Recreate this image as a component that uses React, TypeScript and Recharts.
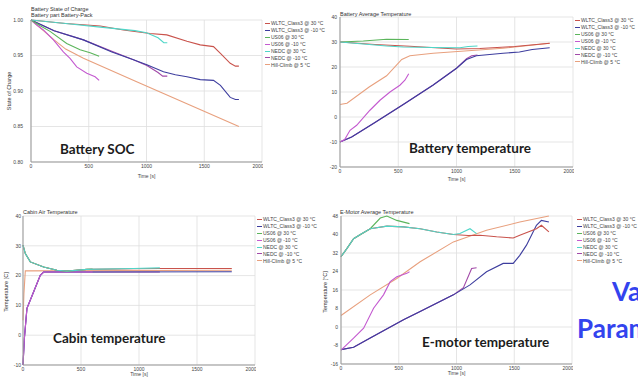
import { LineChart, Line, XAxis, YAxis, CartesianGrid, Label } from "recharts";

type Pt = [number, number];

const seriesNames = [
  "WLTC_Class3 @ 30 °C",
  "WLTC_Class3 @ -10 °C",
  "US06 @ 30 °C",
  "US06 @ -10 °C",
  "NEDC @ 30 °C",
  "NEDC @ -10 °C",
  "Hill-Climb @ 5 °C",
];
const seriesColors = ["#c9534c", "#3d3d9e", "#5bb55b", "#c45ad0", "#4fd6c8", "#a24aa8", "#e8a07e"];
const drawOrder = [6, 5, 1, 3, 2, 0, 4];
const timeTicks = [0, 500, 1000, 1500, 2000];

// battery state of charge
const socWltcHot: Pt[] = [[0, 1], [300, 0.995], [600, 0.9916], [800, 0.986], [1030, 0.981], [1176, 0.979], [1350, 0.97], [1465, 0.965], [1580, 0.9625], [1640, 0.953], [1725, 0.939], [1770, 0.935], [1800, 0.935]];
const socWltcCold: Pt[] = [[0, 1], [200, 0.985], [454, 0.972], [700, 0.955], [887, 0.944], [1003, 0.937], [1147, 0.927], [1250, 0.923], [1350, 0.92], [1465, 0.916], [1580, 0.915], [1640, 0.908], [1725, 0.891], [1770, 0.888], [1800, 0.888]];
const socUs06Hot: Pt[] = [[0, 1], [80, 0.992], [165, 0.984], [309, 0.967], [425, 0.958], [512, 0.954], [590, 0.949]];
const socUs06Cold: Pt[] = [[0, 1], [50, 0.993], [107, 0.986], [194, 0.972], [280, 0.955], [338, 0.946], [396, 0.934], [483, 0.925], [555, 0.92], [590, 0.915]];
const socNedcHot: Pt[] = [[0, 1], [300, 0.995], [600, 0.99], [900, 0.985], [1000, 0.982], [1100, 0.975], [1150, 0.968], [1180, 0.968]];
const socNedcCold: Pt[] = [[0, 1], [200, 0.985], [454, 0.972], [700, 0.956], [887, 0.944], [1003, 0.936], [1100, 0.926], [1140, 0.921], [1180, 0.921]];
const socHill: Pt[] = [[0, 1], [100, 0.986], [200, 0.972], [300, 0.959], [454, 0.946], [900, 0.914], [1350, 0.882], [1800, 0.85]];
const socTicks = [0.8, 0.85, 0.9, 0.95, 1];

// battery average temperature
const btWltcHot: Pt[] = [[0, 30], [300, 29], [600, 28.3], [1000, 27.2], [1200, 27.4], [1500, 28.2], [1800, 29.5]];
const btWltcCold: Pt[] = [[0, -10], [100, -8], [300, -2.2], [543, 5], [800, 12.8], [1000, 19.5], [1086, 23], [1170, 24.5], [1400, 25.5], [1540, 26], [1650, 27], [1800, 27.7]];
const btUs06Hot: Pt[] = [[0, 30], [200, 30.4], [400, 31.1], [590, 31]];
const btUs06Cold: Pt[] = [[0, -10], [40, -9], [86, -5.3], [143, -3.3], [257, 2.7], [343, 6.7], [429, 10], [514, 12.7], [557, 14.7], [590, 17.3]];
const btNedcHot: Pt[] = [[0, 30], [200, 29.2], [400, 28.4], [543, 28], [800, 27.8], [1030, 27.7], [1100, 28.2], [1180, 28.4]];
const btNedcCold: Pt[] = [[0, -10], [100, -8], [300, -2.2], [543, 5], [800, 12.8], [1000, 19.5], [1086, 23.3], [1130, 24.5], [1180, 24.8]];
const btHill: Pt[] = [[0, 5], [60, 5.5], [250, 12], [400, 16.5], [530, 23], [600, 24.5], [800, 25.5], [1100, 26.5], [1400, 27.5], [1800, 29.5]];
const tempTicks = [-20, -10, 0, 10, 20, 30, 40];

// cabin air temperature
const caWltcHot: Pt[] = [[0, 30.2], [20, 27.4], [63, 24.6], [178, 22.9], [293, 21.8], [379, 21.5], [551, 22.1], [953, 22.3], [1180, 22.4], [1800, 22.4]];
const caWltcCold: Pt[] = [[0, -10], [12, -1], [34, 9], [92, 14.6], [149, 20.1], [178, 21.2], [600, 21.2], [1800, 21.3]];
const caUs06Hot: Pt[] = [[0, 30.2], [20, 27.4], [63, 24.6], [178, 22.9], [293, 21.8], [379, 21.5], [551, 22.1], [600, 22.2]];
const caUs06Cold: Pt[] = [[0, -10], [12, -1], [34, 9], [92, 14.6], [149, 20.1], [178, 21.2], [600, 21.2]];
const caNedcHot: Pt[] = [[0, 30.2], [20, 27.4], [63, 24.6], [178, 22.9], [293, 21.8], [379, 21.5], [551, 22.1], [953, 22.4], [1180, 22.6]];
const caNedcCold: Pt[] = [[0, -10], [12, -1], [34, 9], [92, 14.6], [149, 20.1], [178, 21.2], [1180, 21.2]];
const caHill: Pt[] = [[0, 5], [8, 14], [20, 21.6], [1800, 21.8]];
const cabinTicks = [-10, 0, 10, 20, 30, 40];

// e-motor average temperature
const emWltcHot: Pt[] = [[0, 30.4], [52, 34], [109, 38.2], [167, 40], [253, 42.5], [397, 43.6], [541, 43.3], [685, 42.5], [829, 41.1], [973, 40], [1100, 39.6], [1203, 39.7], [1347, 39], [1491, 38.5], [1548, 39.7], [1692, 42.5], [1735, 44], [1800, 41.1]];
const emWltcCold: Pt[] = [[0, -9.8], [109, -8.8], [253, -4.8], [541, 3.1], [685, 6.7], [973, 13.9], [1117, 18.2], [1260, 23.9], [1404, 27.5], [1491, 27.5], [1548, 31], [1606, 35.4], [1692, 44], [1735, 46.1], [1800, 45.4]];
const emUs06Hot: Pt[] = [[0, 30.4], [52, 34], [109, 38.2], [253, 42.5], [340, 47.1], [397, 48], [483, 46.1], [593, 44.7]];
const emUs06Cold: Pt[] = [[0, -10], [109, -4.8], [196, -0.5], [282, 8.1], [368, 13.9], [426, 19.6], [483, 21.7], [570, 23.2], [593, 23.9]];
const emNedcHot: Pt[] = [[0, 30.4], [52, 34], [109, 38.2], [167, 40], [253, 42.5], [397, 43.6], [541, 43.3], [685, 42.5], [829, 41.1], [973, 40], [1030, 40.4], [1117, 42.5], [1174, 40.4]];
const emNedcCold: Pt[] = [[0, -9.8], [109, -8.8], [253, -4.8], [541, 3.1], [685, 6.7], [973, 13.9], [1060, 17], [1131, 25.3], [1174, 25.6]];
const emHill: Pt[] = [[0, 5], [253, 13.9], [483, 21], [685, 28.2], [973, 36.8], [1260, 41.8], [1548, 45.4], [1800, 48]];
const motorTicks = [-16, -8, 0, 8, 16, 24, 32, 40, 48];

const rows = (pts: Pt[]) => pts.map(([t, v]) => ({ t, v }));
const tickFont = { fontSize: 5, fill: "#444", fontFamily: "Liberation Sans" };
const smallText = { position: "absolute" as const, fontSize: 5.5, color: "#333", fontFamily: "Liberation Sans", whiteSpace: "nowrap" as const, lineHeight: "7px" };

interface PanelProps {
  left: number;
  top: number;
  width: number;
  height: number;
  marginTop: number;
  yWidth: number;
  xHeight: number;
  yGap: number;
  series: Pt[][];
  yTicks: number[];
  fmt?: (v: number) => string;
}

function Panel({ left, top, width, height, marginTop, yWidth, xHeight, yGap, series, yTicks, fmt }: PanelProps) {
  return (
    <div style={{ position: "absolute", left, top }}>
      <LineChart width={width} height={height} margin={{ top: marginTop, right: 1, left: 0, bottom: 0 }}>
        <CartesianGrid stroke="#dedede" strokeWidth={0.8} />
        <XAxis
          type="number"
          dataKey="t"
          domain={[0, 2000]}
          ticks={timeTicks}
          height={xHeight}
          tick={tickFont}
          tickLine={false}
          tickSize={2}
          tickMargin={0}
          stroke="#999"
        >
          <Label value="Time [s]" position="insideBottom" offset={4} style={tickFont} />
        </XAxis>
        <YAxis
          type="number"
          domain={[yTicks[0], yTicks[yTicks.length - 1]]}
          ticks={yTicks}
          width={yWidth}
          tick={tickFont}
          tickLine={false}
          tickSize={yGap}
          tickMargin={0}
          tickFormatter={fmt}
          stroke="#999"
        />
        {drawOrder.map((i) =>
          series[i] ? (
            <Line
              key={i}
              data={rows(series[i])}
              dataKey="v"
              type="linear"
              stroke={seriesColors[i]}
              strokeWidth={1.1}
              dot={false}
              isAnimationActive={false}
            />
          ) : null
        )}
      </LineChart>
    </div>
  );
}

function SeriesLegend({ left, top }: { left: number; top: number }) {
  return (
    <div style={{ position: "absolute", left, top }}>
      {seriesNames.map((name, i) => (
        <div key={name} style={{ display: "flex", alignItems: "center", height: 6.9 }}>
          <div style={{ width: 5, height: 1, background: seriesColors[i], marginRight: 1 }} />
          <span style={{ fontSize: 5, color: "#444", fontFamily: "Liberation Sans", whiteSpace: "nowrap" }}>{name}</span>
        </div>
      ))}
    </div>
  );
}

const caption = { position: "absolute" as const, fontFamily: "Lato", fontWeight: 700, fontSize: 13.5, color: "#1c1c1c", whiteSpace: "nowrap" as const, lineHeight: "16px" };
const blue = { position: "absolute" as const, fontFamily: "Lato", fontWeight: 700, fontSize: 26, color: "#3343ee", whiteSpace: "nowrap" as const, lineHeight: "30px" };

export default function App() {
  return (
    <div style={{ position: "absolute", left: 0, top: 0, width: 638, height: 377, overflow: "hidden", background: "#fff" }}>
      <Panel left={0} top={0} width={263} height={182} marginTop={20} yWidth={31} xHeight={20} yGap={8}
        series={[socWltcHot, socWltcCold, socUs06Hot, socUs06Cold, socNedcHot, socNedcCold, socHill]}
        yTicks={socTicks} fmt={(v) => v.toFixed(2)} />
      <Panel left={320} top={0} width={254} height={185} marginTop={17} yWidth={20} xHeight={18} yGap={3}
        series={[btWltcHot, btWltcCold, btUs06Hot, btUs06Cold, btNedcHot, btNedcCold, btHill]}
        yTicks={tempTicks} />
      <Panel left={0} top={195} width={256} height={185} marginTop={21} yWidth={23} xHeight={15} yGap={2}
        series={[caWltcHot, caWltcCold, caUs06Hot, caUs06Cold, caNedcHot, caNedcCold, caHill]}
        yTicks={cabinTicks} />
      <Panel left={320} top={195} width={253} height={184} marginTop={21} yWidth={21} xHeight={15} yGap={3}
        series={[emWltcHot, emWltcCold, emUs06Hot, emUs06Cold, emNedcHot, emNedcCold, emHill]}
        yTicks={motorTicks} />

      <SeriesLegend left={265} top={20} />
      <SeriesLegend left={575} top={17} />
      <SeriesLegend left={257} top={216} />
      <SeriesLegend left={577} top={216} />

      <div style={{ ...smallText, left: 31, top: 6 }}>Battery State of Charge</div>
      <div style={{ ...smallText, left: 31, top: 12 }}>Battery part Battery-Pack</div>
      <div style={{ ...smallText, left: 340, top: 11 }}>Battery Average Temperature</div>
      <div style={{ ...smallText, left: 23, top: 209 }}>Cabin Air Temperature</div>
      <div style={{ ...smallText, left: 340, top: 209 }}>E-Motor Average Temperature</div>
      <div style={{ ...smallText, left: 9, top: 91, transform: "translate(-50%, -50%) rotate(-90deg)" }}>State of Charge</div>
      <div style={{ ...smallText, left: 6, top: 292, transform: "translate(-50%, -50%) rotate(-90deg)" }}>Temperature [C]</div>
      <div style={{ ...smallText, left: 325, top: 292, transform: "translate(-50%, -50%) rotate(-90deg)" }}>Temperature [°C]</div>

      <div style={{ ...caption, left: 60, top: 141 }}>Battery SOC</div>
      <div style={{ ...caption, left: 409, top: 140 }}>Battery temperature</div>
      <div style={{ ...caption, left: 53, top: 330 }}>Cabin temperature</div>
      <div style={{ ...caption, left: 422, top: 334 }}>E-motor temperature</div>

      <div style={{ ...blue, left: 612, top: 276 }}>Va</div>
      <div style={{ ...blue, left: 577, top: 313 }}>Param</div>
    </div>
  );
}
